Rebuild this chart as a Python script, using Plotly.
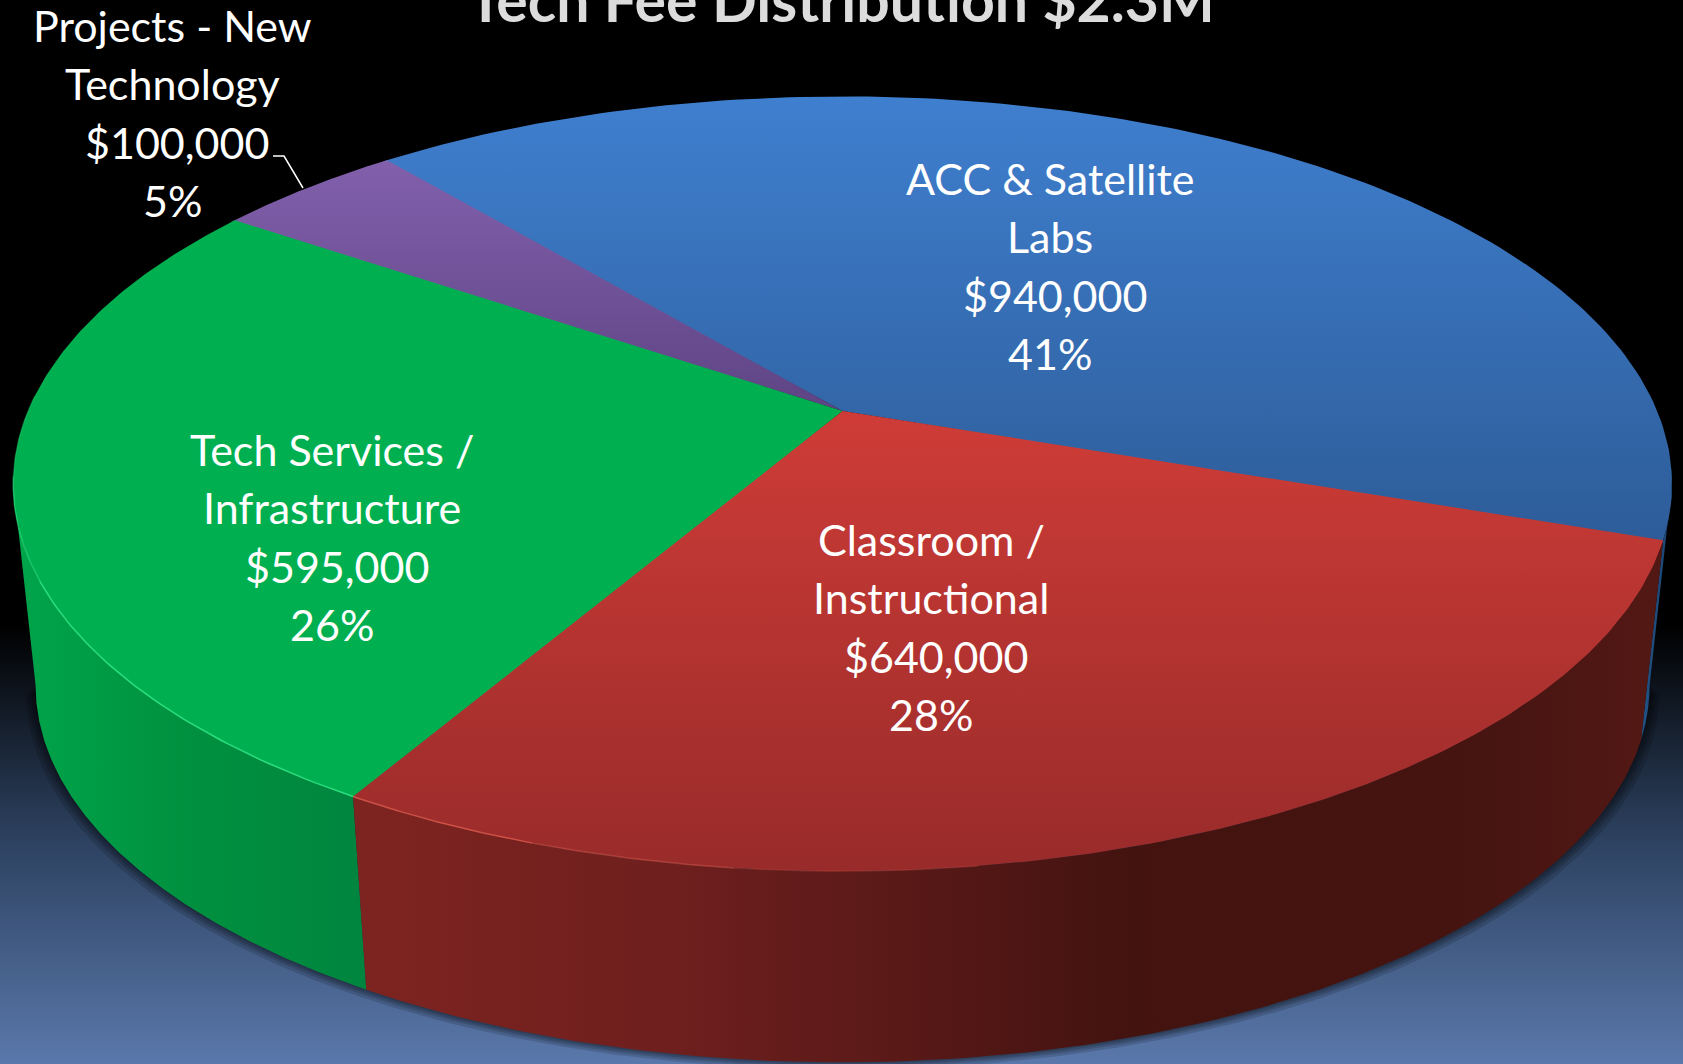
import numpy as np
import plotly.graph_objects as go

# ---- data ----
title_text = "Tech Fee Distribution $2.3M"
categories = ["ACC & Satellite Labs", "Classroom / Instructional",
              "Tech Services / Infrastructure", "Projects - New Technology"]
amounts = [940000, 640000, 595000, 100000]
percents = ["41%", "28%", "26%", "5%"]
label_lines = [["ACC & Satellite", "Labs"], ["Classroom /", "Instructional"],
               ["Tech Services /", "Infrastructure"], ["Projects - New", "Technology"]]

# ---- styling ----
W, H = 1683, 1064
FONT = "Lato"
top_colors = [
    [[0, "#3F7FCF"], [1, "#2D5C98"]],
    [[0, "#CF3C37"], [1, "#982B2A"]],
    [[0, "#00B050"], [1, "#00B050"]],
    [[0, "#8260AC"], [1, "#5E4484"]],
]
wall_colors = [
    [[0, "#215285"], [1, "#1C4675"]],
    [[0, "#7E2420"], [0.25, "#6E1F1E"], [0.6, "#431310"], [0.85, "#451411"], [1, "#521814"]],
    [[0, "#00A54B"], [0.5, "#00903F"], [1, "#00853F"]],
    [[0, "#4A3560"], [1, "#4A3560"]],
]
START_DEG = -39.8
CX, CY, RX, RY, PERSP = 842.6, 411.0, 814.6, 373.7, -0.188
VANISH_Y, DEPTH_SCALE = 7950.0, 0.973


def rim(deg):
    t = np.radians(np.asarray(deg, dtype=float))
    u, v = np.sin(t), -np.cos(t)
    d = 1 + PERSP * v
    return CX + RX * u / d, CY + RY * v / d


def lower(x, y, s=DEPTH_SCALE):
    return CX + s * (x - CX), VANISH_Y + s * (y - VANISH_Y)


fracs = np.array(amounts, dtype=float) / sum(amounts)
edges = START_DEG + np.concatenate([[0], np.cumsum(fracs)]) * 360

# angles of the left and right silhouette of the disc
probe = np.linspace(0, 360, 3601)
probe_x, _ = rim(probe)
SIL_R = probe[np.argmax(probe_x)]
SIL_L = probe[np.argmin(probe_x)]

fig = go.Figure()
fig.add_trace(go.Scatter(
    x=[0, W, W, 0, 0], y=[0, 0, H, H, 0], mode="lines", line=dict(width=0), fill="toself",
    fillgradient=dict(type="vertical", start=625, stop=H,
                      colorscale=[[0, "#000000"], [0.5, "#2E4362"], [1, "#5A78AB"]]),
    hoverinfo="skip", showlegend=False))

# soft shadow below the lower rim
for grow in (1.012, 1.008, 1.005, 1.002):
    deg = np.linspace(SIL_R, SIL_L, 300)
    rx, ry = rim(deg)
    lx, ly = lower(rx, ry)
    sx = CX + grow * (lx - CX)
    sy = ly + (grow - 1) * 600
    fig.add_trace(go.Scatter(
        x=sx, y=sy, mode="lines", line=dict(width=0),
        fill="toself", fillcolor="rgba(0,0,0,0.14)", hoverinfo="skip", showlegend=False))

# side walls: only the part between the two silhouette angles can be seen
for i in [0, 2, 1]:
    a = max(edges[i], SIL_R)
    b = min(edges[i + 1], SIL_L)
    deg = np.linspace(a, b, 160)
    tx, ty = rim(deg)
    bx, by = lower(tx, ty)
    px = np.concatenate([tx, bx[::-1], tx[:1]])
    py = np.concatenate([ty, by[::-1], ty[:1]])
    lim = (px.min(), 1650) if i == 1 else (px.min(), px.max())
    fig.add_trace(go.Scatter(
        x=px, y=py, mode="lines", line=dict(width=0), fill="toself",
        fillgradient=dict(type="horizontal", start=lim[0], stop=lim[1], colorscale=wall_colors[i]),
        hoverinfo="skip", showlegend=False))

# top faces: each is slightly extended underneath the next one so no seam shows
grad_range = [(97, 545), (411, 872), (200, 800), (160, 411)]
under = [(0.4, 0.4), (0, 0), (0.4, 0), (0.4, 0)]
for i in [0, 3, 2, 1]:
    deg = np.linspace(edges[i] - under[i][0], edges[i + 1] + under[i][1], 160)
    tx, ty = rim(deg)
    px = np.concatenate([[CX], tx, [CX]])
    py = np.concatenate([[CY], ty, [CY]])
    fig.add_trace(go.Scatter(
        x=px, y=py, mode="lines", line=dict(width=0), fill="toself",
        fillgradient=dict(type="vertical", start=grad_range[i][0], stop=grad_range[i][1],
                          colorscale=top_colors[i]),
        hoverinfo="skip", showlegend=False))

# rim highlights, fading along their length
e2 = edges[2]
highlights = [(e2, e2 + 35, "rgba(50,235,135,0.85)"), (e2 + 35, e2 + 50, "rgba(50,235,135,0.55)"),
              (e2 + 50, e2 + 62, "rgba(50,235,135,0.25)"),
              (e2 - 12, e2, "rgba(230,95,80,0.75)"), (e2 - 24, e2 - 12, "rgba(230,95,80,0.45)"),
              (e2 - 38, e2 - 24, "rgba(230,95,80,0.2)")]
for a, b, col in highlights:
    hx, hy = rim(np.linspace(a, b, 60))
    fig.add_trace(go.Scatter(x=hx, y=hy, mode="lines", line=dict(width=1.5, color=col),
                             hoverinfo="skip", showlegend=False))

# leader line of the small slice
fig.add_shape(type="path", path="M 273 156 L 284 156 L 303 188",
              line=dict(color="white", width=1.5))

fig.add_annotation(x=W / 2, y=23, text="<b>" + title_text + "</b>", showarrow=False,
                   xanchor="center", yanchor="bottom", yshift=-14,
                   font=dict(family=FONT, size=59, color="#DCDCDC"))

label_x = [1050, 931, 332, 172]
label_y = [178, 539, 449, 25]
PITCH = 58.6
AMOUNT_SHIFT = 5
for i in range(4):
    lines = label_lines[i] + ["${:,}".format(amounts[i]), percents[i]]
    for j, txt in enumerate(lines):
        fig.add_annotation(x=label_x[i] + (AMOUNT_SHIFT if j == 2 else 0),
                           y=label_y[i] + j * PITCH, text=txt, showarrow=False,
                           xanchor="center", yanchor="middle",
                           font=dict(family=FONT, size=43, color="white"))

fig.update_layout(
    width=W, height=H, margin=dict(l=0, r=0, t=0, b=0),
    paper_bgcolor="black", plot_bgcolor="black", showlegend=False,
    xaxis=dict(range=[0, W], visible=False, fixedrange=True),
    yaxis=dict(range=[H, 0], visible=False, fixedrange=True),
)
fig.write_html("out.html", config={"displayModeBar": False},
               post_script="document.body.style.margin='0';document.body.style.overflow='hidden';")
